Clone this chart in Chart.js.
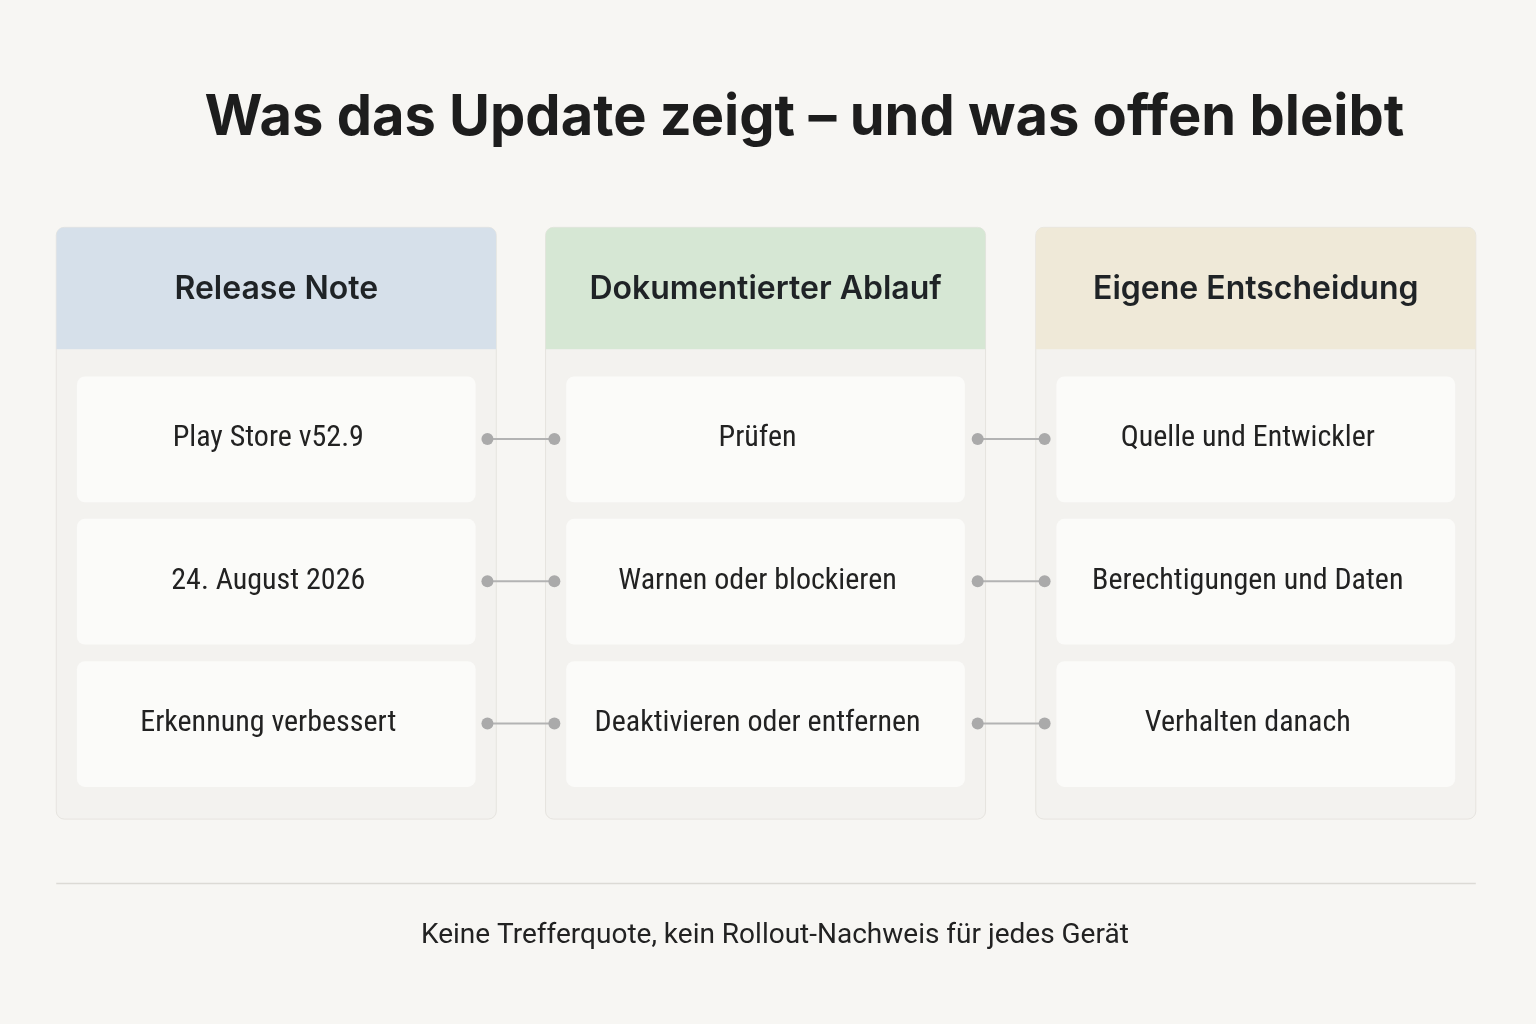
<!DOCTYPE html>
<html><head><meta charset="utf-8">
<script src="https://cdn.jsdelivr.net/npm/chart.js@4/dist/chart.umd.min.js"></script>
<style>html,body{margin:0;padding:0;background:#f7f6f3}#w{width:1536px;height:1024px}</style>
</head><body><div id="w"><canvas id="c"></canvas></div>
<script>
const title = "Was das Update zeigt – und was offen bleibt";
const columns = ["Release Note", "Dokumentierter Ablauf", "Eigene Entscheidung"];
const items = [
  ["Play Store v52.9", "24. August 2026", "Erkennung verbessert"],
  ["Prüfen", "Warnen oder blockieren", "Deaktivieren oder entfernen"],
  ["Quelle und Entwickler", "Berechtigungen und Daten", "Verhalten danach"]
];
const footer = "Keine Trefferquote, kein Rollout-Nachweis für jedes Gerät";
const headerColors = ["#d6e0ea", "#d6e7d4", "#efe9d8"];
const colLeft = [45, 542, 1040];
const colW = 447;
const rowY = [437, 583, 729];
const connectorX = [[483, 551], [981, 1049]];

const datasets = [];
connectorX.forEach(cx => rowY.forEach(y => datasets.push({
  data: [{x: cx[0], y}, {x: cx[1], y}], showLine: true,
  borderColor: "#b3b3b3", borderWidth: 2, pointRadius: 6,
  pointBackgroundColor: "#aaaaaa", pointBorderWidth: 0
})));

function rr(ctx, x, y, w, h, r) { ctx.beginPath(); ctx.roundRect(x, y, w, h, r); }

const drawPlugin = {
  id: "diagram",
  beforeDatasetsDraw(chart) {
    const ctx = chart.ctx, sx = chart.scales.x, sy = chart.scales.y;
    const X = v => sx.getPixelForValue(v), Y = v => sy.getPixelForValue(v);
    ctx.save();
    ctx.fillStyle = "#f7f6f3"; ctx.fillRect(0, 0, chart.width, chart.height);
    ctx.fillStyle = "#1d1d1d"; ctx.textAlign = "center"; ctx.textBaseline = "middle";
    ctx.font = "bold 56px Inter, 'DejaVu Sans', sans-serif";
    ctx.fillText(title, X(805), Y(108));
    columns.forEach((c, i) => {
      const l = X(colLeft[i]), t = Y(220), w = X(colLeft[i] + colW) - l, h = Y(827) - t;
      rr(ctx, l, t, w, h, 8); ctx.fillStyle = "#f3f2ef"; ctx.fill();
      ctx.strokeStyle = "#e6e4df"; ctx.lineWidth = 1; ctx.stroke();
      ctx.save(); rr(ctx, l, t, w, h, 8); ctx.clip();
      ctx.fillStyle = headerColors[i]; ctx.fillRect(l, t, w, Y(345) - t); ctx.restore();
      ctx.fillStyle = "#1f2326"; ctx.font = "600 32px Inter, 'DejaVu Sans', sans-serif";
      ctx.fillText(c, l + w / 2, Y(284));
      items[i].forEach((it, j) => {
        const cl = X(colLeft[i] + 21), ct = Y(rowY[j] - 64), cw = X(colLeft[i] + colW - 21) - cl, ch = Y(rowY[j] + 65) - ct;
        rr(ctx, cl, ct, cw, ch, 8); ctx.fillStyle = "#fbfbf9"; ctx.fill();
        ctx.fillStyle = "#222"; ctx.font = "30px 'Liberation Sans Narrow', 'Roboto Condensed', Roboto, sans-serif";
        ctx.fillText(it, cl + cw / 2 - 8, Y(rowY[j]));
      });
    });
    ctx.strokeStyle = "#dcdad5"; ctx.lineWidth = 1.5; ctx.beginPath();
    ctx.moveTo(X(45), Y(893)); ctx.lineTo(X(1487), Y(893)); ctx.stroke();
    ctx.fillStyle = "#222"; ctx.font = "28px 'Liberation Sans Narrow', Roboto, sans-serif";
    ctx.fillText(footer, X(775), Y(947));
    ctx.restore();
  }
};

new Chart(document.getElementById("c"), {
  type: "scatter",
  data: { datasets },
  options: {
    responsive: true, maintainAspectRatio: false, animation: false,
    layout: { padding: 0 },
    plugins: { legend: { display: false }, tooltip: { enabled: false } },
    scales: {
      x: { type: "linear", min: -6.05, max: 1542.05, display: false },
      y: { type: "linear", min: -7.05, max: 1031.05, reverse: true, display: false }
    }
  },
  plugins: [drawPlugin]
});
</script></body></html>
